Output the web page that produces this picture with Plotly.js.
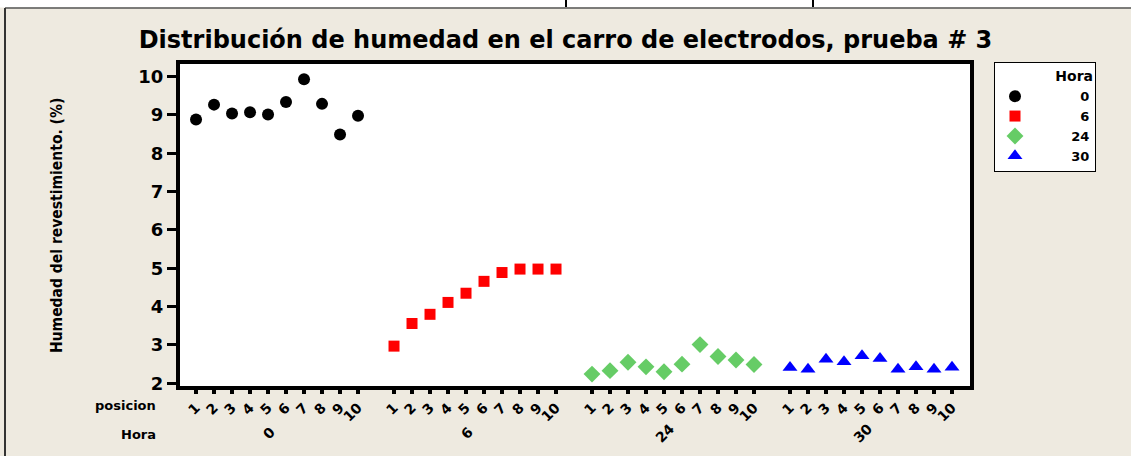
<!DOCTYPE html>
<html>
<head>
<meta charset="utf-8">
<script src="https://cdn.plot.ly/plotly-3.0.1.min.js"></script>
<style>html,body{margin:0;padding:0;background:#EEEAE0;}#chart{width:1131px;height:456px;}</style>
</head>
<body>
<div id="chart"></div>
<script>
// ---- data ----
const horas = ['0', '6', '24', '30'];
const posiciones = ['1','2','3','4','5','6','7','8','9','10'];
const hora0  = [8.88, 9.27, 9.04, 9.07, 9.01, 9.34, 9.93, 9.29, 8.49, 8.98];
const hora6  = [2.97, 3.56, 3.80, 4.11, 4.35, 4.66, 4.89, 4.98, 4.98, 4.98];
const hora24 = [2.24, 2.33, 2.55, 2.43, 2.30, 2.50, 3.01, 2.70, 2.61, 2.49];
const hora30 = [2.41, 2.37, 2.63, 2.56, 2.72, 2.65, 2.37, 2.43, 2.37, 2.42];
const series = [hora0, hora6, hora24, hora30];

// ---- style ----
const colors  = ['#000000', '#FF0000', '#66CC66', '#0000FF'];
const symbols = ['circle', 'square', 'diamond', 'triangle-up'];
const sizes   = [12, 11, 13, 13];
const legendPad = ['\u2007\u2007\u2007\u2007\u2007', '\u2007\u2007\u2007\u2007\u2007', '\u2007\u2007\u2007\u2007', '\u2007\u2007\u2007\u2007'];
const GAP = 11; // slots per group (10 positions + 1 empty slot)

const F = 'DejaVu Sans, Verdana, sans-serif';

const traces = series.map((vals, g) => ({
  type: 'scatter', mode: 'markers',
  name: legendPad[g] + horas[g],
  x: posiciones.map((p, i) => g * GAP + i + 1),
  y: vals,
  marker: {color: colors[g], symbol: symbols[g], size: sizes[g], line: {width: 0}},
  hoverinfo: 'x+y'
}));

const tickvals = [], ticktext = [];
horas.forEach((h, g) => posiciones.forEach((p, i) => { tickvals.push(g * GAP + i + 1); ticktext.push(p); }));

// plot area in px: x 180..970, y 64..386
const L = 180, R = 970, T = 64, B = 386;
const px = v => (v - L) / (R - L);
const py = v => 1 - (v - T) / (B - T);

const annotations = [
  {text: 'Humedad del revestimiento. (%)', xref: 'paper', yref: 'paper', x: px(57), y: py(226),
   xanchor: 'center', yanchor: 'middle', textangle: -90, showarrow: false,
   font: {family: 'DejaVu Sans Condensed, Liberation Sans Narrow, Arial Narrow, sans-serif', size: 15.5, color: '#000', weight: 'bold'}},
  {text: 'posicion', xref: 'paper', yref: 'paper', x: px(158), y: py(406), xanchor: 'right', yanchor: 'middle',
   showarrow: false, font: {family: F, size: 13, color: '#000', weight: 'bold'}},
  {text: 'Hora', xref: 'paper', yref: 'paper', x: px(158), y: py(434), xanchor: 'right', yanchor: 'middle',
   showarrow: false, font: {family: F, size: 13, color: '#000', weight: 'bold'}}
];
horas.forEach((h, g) => {
  const xs = posiciones.map((p, i) => g * GAP + i + 1);
  const c = xs.reduce((a, b) => a + b, 0) / xs.length;
  annotations.push({text: h, xref: 'x', yref: 'paper', x: c, y: py(433), xshift: -8,
    xanchor: 'center', yanchor: 'middle', textangle: -45, showarrow: false,
    font: {family: F, size: 14, color: '#000', weight: 'bold'}});
});

const shapes = [
  {type: 'rect', xref: 'paper', yref: 'paper', x0: px(0), x1: px(1131), y0: py(7.5), y1: py(0), fillcolor: '#FFFFFF', line: {width: 0}},
  {type: 'line', xref: 'paper', yref: 'paper', x0: px(5), x1: px(1131), y0: py(8), y1: py(8), line: {color: '#555555', width: 1.5}},
  {type: 'line', xref: 'paper', yref: 'paper', x0: px(5), x1: px(5), y0: py(8), y1: py(456), line: {color: '#333333', width: 2}},
  {type: 'line', xref: 'paper', yref: 'paper', x0: px(566), x1: px(566), y0: py(0), y1: py(7), line: {color: '#000', width: 2}},
  {type: 'line', xref: 'paper', yref: 'paper', x0: px(813), x1: px(813), y0: py(0), y1: py(7), line: {color: '#000', width: 2}}
];

const layout = {
  width: 1131, height: 456,
  margin: {l: L, r: 1131 - R, t: T, b: 456 - B, pad: 0},
  paper_bgcolor: '#EEEAE0', plot_bgcolor: '#FFFFFF',
  title: {text: 'Distribución de humedad en el carro de electrodos, prueba # 3',
          x: 0.5, xanchor: 'center', y: 1 - 40 / 456, yanchor: 'middle',
          font: {family: F, size: 24, color: '#000', weight: 'bold'}},
  showlegend: true,
  legend: {x: px(994), y: py(62), xanchor: 'left', yanchor: 'top',
           bgcolor: '#FFFFFF', bordercolor: '#000', borderwidth: 1,
           font: {family: F, size: 13, color: '#000', weight: 'bold'},
           title: {text: 'Hora', side: 'top right', font: {family: F, size: 14, color: '#000', weight: 'bold'}},
           itemwidth: 30, tracegroupgap: 0},
  xaxis: {range: [0.11, 44], tickmode: 'array', tickvals: tickvals, ticktext: ticktext,
          tickangle: -45, ticks: 'outside', ticklen: 4, tickwidth: 4, tickcolor: '#000',
          showline: true, linewidth: 4, linecolor: '#000', mirror: true,
          showgrid: false, zeroline: false, fixedrange: true,
          tickfont: {family: F, size: 14, color: '#000', weight: 'bold'}},
  yaxis: {range: [1.93, 10.33], tickmode: 'array', tickvals: [2,3,4,5,6,7,8,9,10],
          ticks: 'outside', ticklen: 9, tickwidth: 3, tickcolor: '#000',
          showline: true, linewidth: 4, linecolor: '#000', mirror: true,
          showgrid: false, zeroline: false, fixedrange: true,
          tickfont: {family: F, size: 18, color: '#000', weight: 'bold'}},
  annotations: annotations,
  shapes: shapes
};

Plotly.newPlot('chart', traces, layout, {displayModeBar: false, staticPlot: true});
</script>
</body>
</html>
